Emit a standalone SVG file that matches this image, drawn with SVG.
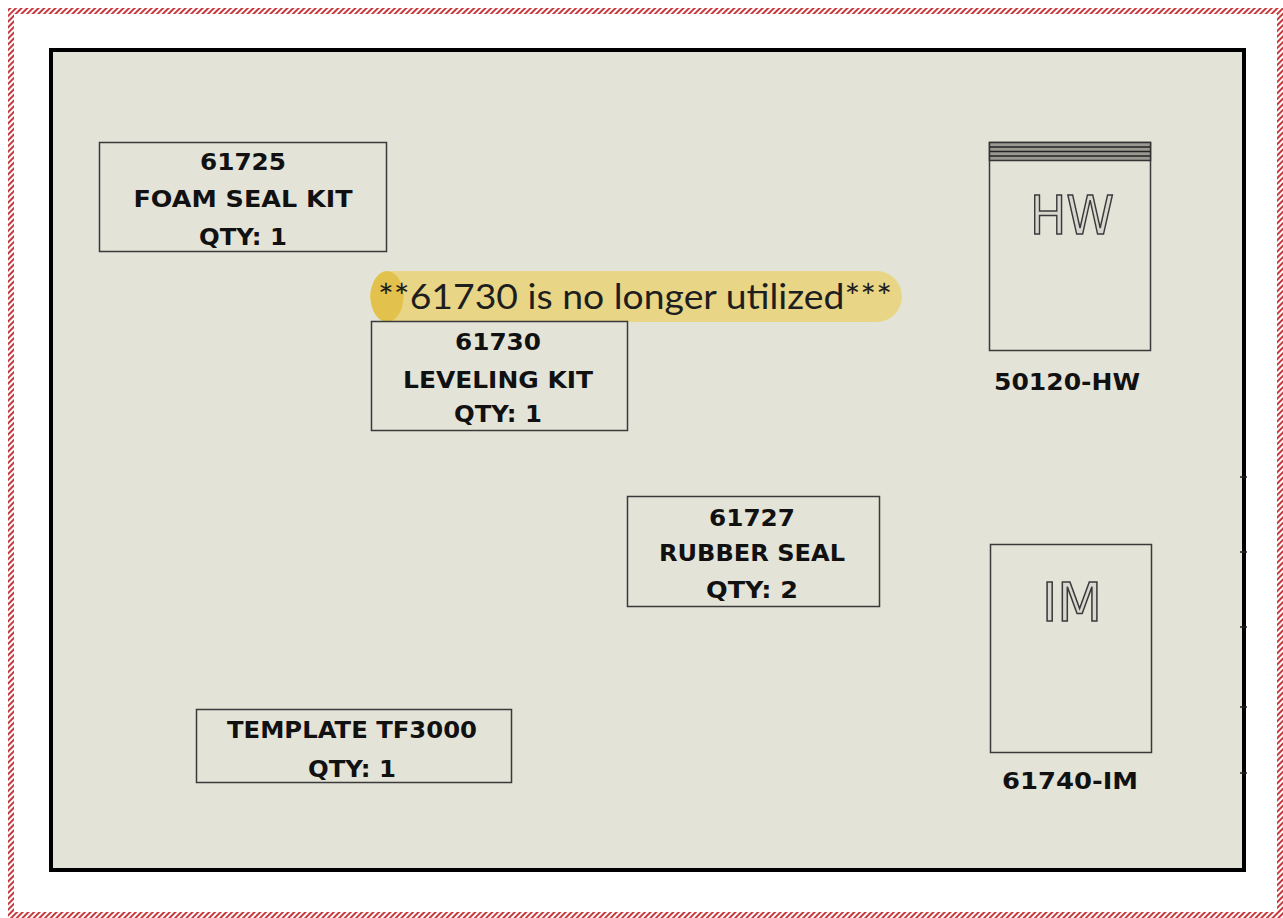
<svg xmlns="http://www.w3.org/2000/svg" width="1283" height="918" viewBox="0 0 1283 918">
<defs>
<pattern id="hatch" width="4" height="4" patternUnits="userSpaceOnUse" patternTransform="rotate(45)">
<rect width="4" height="4" fill="#ffffff"/>
<rect width="2" height="4" fill="#c8393d"/>
</pattern>
<style>
.box{fill:none;stroke:#3a3a3a;stroke-width:1.5}
.lbl{font-family:"DejaVu Sans","Liberation Sans",sans-serif;font-weight:bold;font-size:23px;fill:#111;text-anchor:middle}
.big{font-family:"DejaVu Sans","Liberation Sans",sans-serif;font-size:54px;font-weight:normal;fill:#d8d8d0;stroke:#3a3a3a;stroke-width:1.6;text-anchor:middle}
.tick{stroke:#222;stroke-width:1.5}
</style>
</defs>
<rect width="1283" height="918" fill="#ffffff"/>
<g id="outer-border">
<rect x="8" y="8" width="1275" height="6" fill="url(#hatch)"/>
<rect x="8" y="912" width="1275" height="6" fill="url(#hatch)"/>
<rect x="8" y="8" width="6" height="910" fill="url(#hatch)"/>
<rect x="1277" y="8" width="6" height="910" fill="url(#hatch)"/>
</g>
<g id="sheet">
<rect x="51" y="50" width="1193" height="820" fill="#e4e3d8" stroke="#000" stroke-width="4"/>
<line class="tick" x1="1240" y1="477" x2="1247" y2="477"/>
<line class="tick" x1="1240" y1="552" x2="1247" y2="552"/>
<line class="tick" x1="1240" y1="627" x2="1247" y2="627"/>
<line class="tick" x1="1240" y1="707" x2="1247" y2="707"/>
<line class="tick" x1="1240" y1="773" x2="1247" y2="773"/>
</g>
<g id="connectors"></g>
<g id="foam-seal-kit">
<rect class="box" x="99.5" y="142.5" width="287" height="109"/>
<text class="lbl" x="243" y="170" textLength="86" lengthAdjust="spacingAndGlyphs">61725</text>
<text class="lbl" x="243" y="207" textLength="219" lengthAdjust="spacingAndGlyphs">FOAM SEAL KIT</text>
<text class="lbl" x="243" y="245" textLength="88" lengthAdjust="spacingAndGlyphs">QTY: 1</text>
</g>
<g id="note">
<rect x="370" y="271" width="532" height="51" rx="25.5" fill="#e8d686"/>
<path d="M387 271 A16.5 25.5 0 0 0 387 322 A16.5 25.5 0 0 0 387 271 Z" fill="#e2c24c"/>
<text x="378" y="309" font-family="Lato, sans-serif" font-size="34" fill="#1e1e1e" textLength="514" lengthAdjust="spacingAndGlyphs">**61730 is no longer utilized***</text>
</g>
<g id="leveling-kit">
<rect class="box" x="371.5" y="321.5" width="256" height="109"/>
<text class="lbl" x="498" y="350" textLength="86" lengthAdjust="spacingAndGlyphs">61730</text>
<text class="lbl" x="498" y="388" textLength="190" lengthAdjust="spacingAndGlyphs">LEVELING KIT</text>
<text class="lbl" x="498" y="422" textLength="88" lengthAdjust="spacingAndGlyphs">QTY: 1</text>
</g>
<g id="rubber-seal">
<rect class="box" x="627.5" y="496.5" width="252" height="110"/>
<text class="lbl" x="752" y="526" textLength="86" lengthAdjust="spacingAndGlyphs">61727</text>
<text class="lbl" x="752" y="561" textLength="186" lengthAdjust="spacingAndGlyphs">RUBBER SEAL</text>
<text class="lbl" x="752" y="598" textLength="92" lengthAdjust="spacingAndGlyphs">QTY: 2</text>
</g>
<g id="template">
<rect class="box" x="196.5" y="709.5" width="315" height="73"/>
<text class="lbl" x="352" y="738" textLength="250" lengthAdjust="spacingAndGlyphs">TEMPLATE TF3000</text>
<text class="lbl" x="352" y="777" textLength="88" lengthAdjust="spacingAndGlyphs">QTY: 1</text>
</g>
<g id="hw-bag">
<rect class="box" x="989.5" y="142.5" width="161" height="208"/>
<rect x="989.5" y="142.5" width="161" height="18" fill="#9a9a92" stroke="#333" stroke-width="1.5"/>
<line x1="990" y1="147" x2="1150" y2="147" stroke="#222" stroke-width="1.5"/>
<line x1="990" y1="151.5" x2="1150" y2="151.5" stroke="#222" stroke-width="1.5"/>
<line x1="990" y1="156" x2="1150" y2="156" stroke="#222" stroke-width="1.5"/>
<text class="big" x="1072" y="234" textLength="84" lengthAdjust="spacingAndGlyphs">HW</text>
<text class="lbl" x="1067" y="390" textLength="146" lengthAdjust="spacingAndGlyphs">50120-HW</text>
</g>
<g id="im-box">
<rect class="box" x="990.5" y="544.5" width="161" height="208"/>
<text class="big" x="1072" y="621" textLength="60" lengthAdjust="spacingAndGlyphs">IM</text>
<text class="lbl" x="1070" y="789" textLength="136" lengthAdjust="spacingAndGlyphs">61740-IM</text>
</g>
</svg>
